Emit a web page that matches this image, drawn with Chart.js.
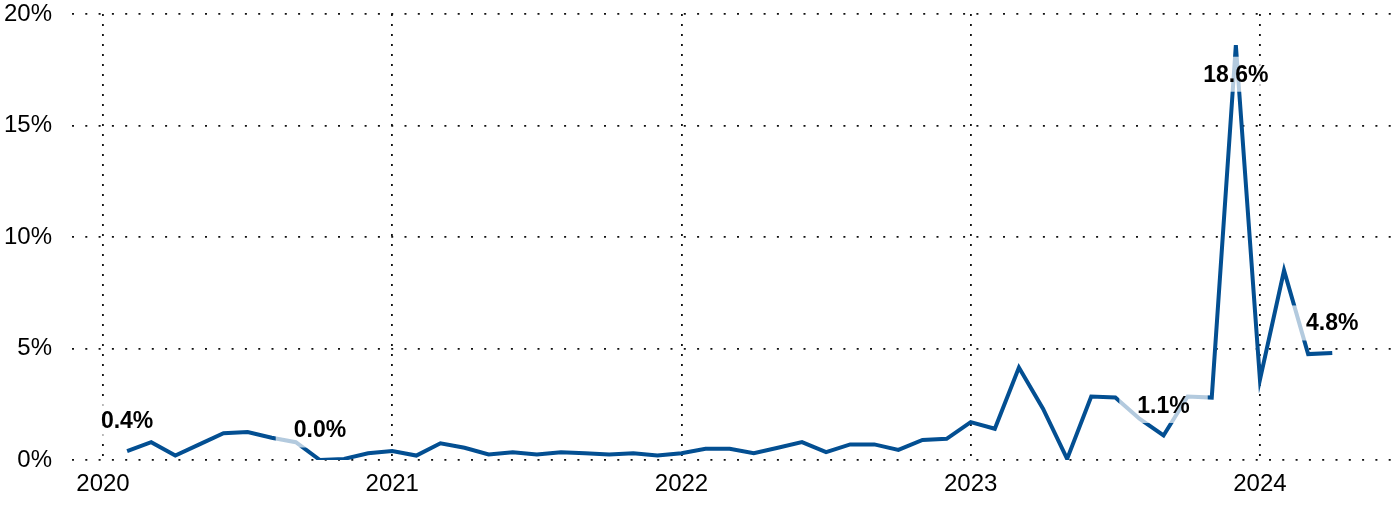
<!DOCTYPE html>
<html>
<head>
<meta charset="utf-8">
<script src="https://cdn.jsdelivr.net/npm/chart.js@4"></script>
<style>
  html, body { margin: 0; padding: 0; background: #fff; }
  #wrap { width: 1393px; height: 505px; }
</style>
</head>
<body>
<div id="wrap"><canvas id="chart"></canvas></div>
<script>
// Monthly series, Feb 2020 .. Apr 2024 (months counted from Jan 2020)
const firstMonth = 1;
const values = [
    0.4, 0.8, 0.2, 0.7, 1.2, 1.25, 1.0, 0.8, 0.0, 0.05, 0.3,               // 2020
    0.4, 0.2, 0.75, 0.55, 0.25, 0.35, 0.25, 0.35, 0.3, 0.25, 0.3, 0.2,     // 2021
    0.3, 0.5, 0.5, 0.3, 0.55, 0.8, 0.35, 0.7, 0.7, 0.45, 0.9, 0.95,        // 2022
    1.7, 1.4, 4.15, 2.3, 0.05, 2.85, 2.8, 1.85, 1.1, 2.85, 2.8, 18.6,      // 2023
    3.6, 8.5, 4.75, 4.8                                                    // 2024
];
const years = ['2020', '2021', '2022', '2023', '2024'];
const yTicks = [0, 5, 10, 15, 20];

// annotated points (index into values) and where the label sits
const labelIdx = [0, 8, 43, 46, 50];
const labelPos = ['above', 'above', 'above', 'below', 'above'];

const lineColor = '#034f92';
const font = "'Liberation Sans', Arial, sans-serif";

const points = values.map((v, i) => ({ x: firstMonth + i, y: v }));

// draws the value labels on a semi-transparent white box
const valueLabels = {
    id: 'valueLabels',
    afterDatasetsDraw(chart) {
        const ctx = chart.ctx;
        const meta = chart.getDatasetMeta(0);
        ctx.save();
        ctx.font = 'bold 23px ' + font;
        ctx.textAlign = 'center';
        ctx.textBaseline = 'middle';
        labelIdx.forEach((idx, k) => {
            const pt = meta.data[idx];
            const text = values[idx].toFixed(1) + '%';
            const cy = labelPos[k] === 'below' ? pt.y + 29 : pt.y - 30;
            const w = ctx.measureText(text).width + 36;
            const h = 35;
            ctx.fillStyle = 'rgba(255,255,255,0.7)';
            ctx.fillRect(pt.x - w / 2, cy - h / 2, w, h);
            ctx.fillStyle = '#000';
            ctx.fillText(text, pt.x, cy + 1);
        });
        ctx.restore();
    }
};

new Chart(document.getElementById('chart'), {
    type: 'line',
    data: {
        datasets: [{
            data: points,
            borderColor: lineColor,
            borderWidth: 4,
            pointRadius: 0,
            tension: 0,
            fill: false
        }]
    },
    options: {
        responsive: true,
        maintainAspectRatio: false,
        animation: false,
        layout: { padding: { top: 14, right: 0, left: 0, bottom: 0 } },
        plugins: {
            legend: { display: false },
            tooltip: { enabled: false }
        },
        scales: {
            x: {
                type: 'linear',
                min: -1.286,
                max: 53.52,
                afterBuildTicks: scale => {
                    scale.ticks = years.map((y, i) => ({ value: i * 12 }));
                },
                afterFit: scale => {
                    scale.height = 45;
                    scale.paddingLeft = 0;
                    scale.paddingRight = 0;
                },
                ticks: {
                    autoSkip: false,
                    maxRotation: 0,
                    padding: 10,
                    color: '#000',
                    font: { family: font, size: 24 },
                    callback: v => years[Math.round(v / 12)]
                },
                grid: {
                    color: '#111',
                    lineWidth: 1.8,
                    drawTicks: false
                },
                border: { display: false, dash: [2, 8] }
            },
            y: {
                min: 0,
                max: 20,
                afterBuildTicks: scale => {
                    scale.ticks = yTicks.map(v => ({ value: v }));
                },
                afterFit: scale => {
                    scale.width = 72;
                    scale.paddingTop = 0;
                    scale.paddingBottom = 0;
                },
                ticks: {
                    padding: 20,
                    color: '#000',
                    font: { family: font, size: 24 },
                    callback: v => v + '%'
                },
                grid: {
                    color: '#111',
                    lineWidth: 1.8,
                    drawTicks: false
                },
                border: { display: false, dash: [2, 11.3] }
            }
        }
    },
    plugins: [valueLabels]
});
</script>
</body>
</html>
